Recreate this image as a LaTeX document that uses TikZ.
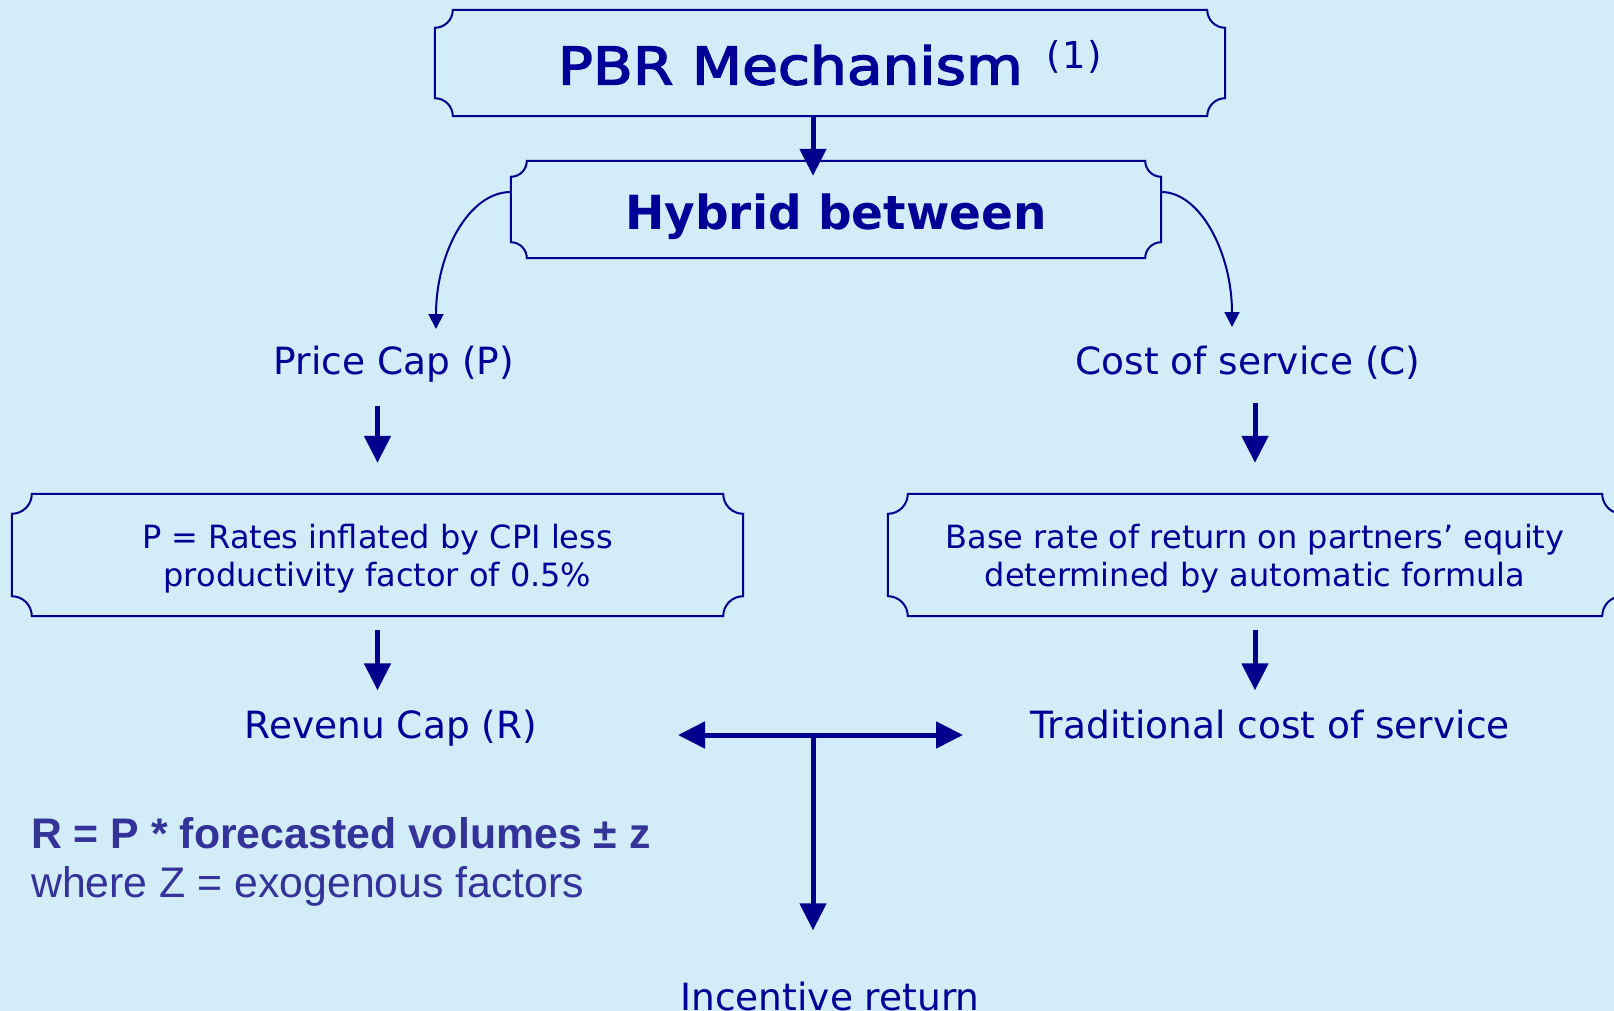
\documentclass[tikz,border=0pt]{standalone}
\usepackage{fontspec}
\setmainfont{DejaVu Sans}
\newfontfamily\arialfont{Liberation Sans}
\newfontfamily\pbrfont[FakeBold=2.6]{DejaVu Sans}
\usetikzlibrary{arrows.meta,calc}
\definecolor{bgblue}{RGB}{210,236,248}
\definecolor{navytext}{RGB}{0,0,150}
\definecolor{linenavy}{RGB}{0,0,140}
\definecolor{formulablue}{RGB}{51,51,153}

% concave-corner frame around a named node; #1 node, #2 corner radius
\newcommand\plaqueframe[2]{%
\draw[plaqueline] let \p1=(#1.north west), \p2=(#1.south east) in
 ({\x1+#2},\y1) -- ({\x2-#2},\y1)
 .. controls ({\x2-#2},{\y1-0.552*#2}) and ({\x2-0.552*#2},{\y1-#2}) .. (\x2,{\y1-#2})
 -- (\x2,{\y2+#2})
 .. controls ({\x2-0.552*#2},{\y2+#2}) and ({\x2-#2},{\y2+0.552*#2}) .. ({\x2-#2},\y2)
 -- ({\x1+#2},\y2)
 .. controls ({\x1+#2},{\y2+0.552*#2}) and ({\x1+0.552*#2},{\y2+#2}) .. (\x1,{\y2+#2})
 -- (\x1,{\y1-#2})
 .. controls ({\x1+0.552*#2},{\y1-#2}) and ({\x1+#2},{\y1-0.552*#2}) .. ({\x1+#2},\y1)
 -- cycle;}

\begin{document}
\begin{tikzpicture}[x=1pt,y=-1pt,
  plaqueline/.style={draw=linenavy, line width=2pt},
  plaque/.style={inner sep=0pt, text=navytext},
  txt/.style={inner sep=0pt, text=navytext, anchor=base, font=\fontsize{37.5}{45}\selectfont},
  boxtxt/.style={plaque, font=\fontsize{32}{38.4}\selectfont, text height=0pt, text depth=13.4pt},
  bigarrow/.style={draw=linenavy, line width=5pt, -{Triangle[length=27pt,width=26pt]}},
  twoarrow/.style={draw=linenavy, line width=5pt, {Triangle[length=27pt,width=26pt]}-{Triangle[length=27pt,width=26pt]}},
  thinarrow/.style={draw=linenavy, line width=2pt, -{Triangle[length=15pt,width=15pt]}}]

\useasboundingbox (0,0) rectangle (1614,1011);
\clip (0,0) rectangle (1614,1011);
\fill[bgblue] (0,0) rectangle (1614,1011);

% boxes
\node[plaque, minimum width=790pt, minimum height=106pt, text height=43pt, text depth=0pt] (pbr) at (830,63)
  {\scalebox{1.12}[1]{\pbrfont\fontsize{52}{60}\selectfont PBR Mechanism}\hspace{24pt}\raisebox{15.5pt}{\fontsize{37}{40}\selectfont(\kern1.5pt1\kern1.5pt)}};
\plaqueframe{pbr}{18pt}

\node[plaque, minimum width=650pt, minimum height=97pt, text height=40pt, text depth=0pt] (hyb) at (836,209.5)
  {\fontsize{47}{56}\selectfont\bfseries Hybrid between};
\plaqueframe{hyb}{16pt}

\node[boxtxt, minimum width=731pt, minimum height=122pt] (lbox) at (377.5,555)
  {\begin{tabular}[t]{@{}c@{}}P = Rates inflated by CPI less\\productivity factor of 0.5\%\end{tabular}};
\plaqueframe{lbox}{20pt}

\node[boxtxt, minimum width=734pt, minimum height=122pt] (rbox) at (1255,555)
  {\begin{tabular}[t]{@{}c@{}}Base rate of return on partners’ equity\\determined by automatic formula\end{tabular}};
\plaqueframe{rbox}{20pt}

% labels
\node[txt] (pc) at (394,374.7) {Price Cap (P)};
\node[txt] (cs) at (1248,374.7) {Cost of service (C)};
\node[txt] (rev) at (391,738) {Revenu Cap (R)};
\node[txt] (trad) at (1270,738) {Traditional cost of service};
\node[txt] (inc) at (830,1010) {Incentive return};

\node[anchor=base west, inner sep=0pt, text=formulablue, font=\arialfont\bfseries\fontsize{42.8}{50}\selectfont] (rf) at (31,848)
  {R = P * forecasted volumes ± z};
\node[anchor=base west, inner sep=0pt, text=formulablue, font=\arialfont\fontsize{42.8}{50}\selectfont] (rz) at (31,897)
  {where Z = exogenous factors};

% connectors
\draw[bigarrow] ([xshift=-17pt]pbr.south) -- ([xshift=-23pt,yshift=-15pt]hyb.north);

\coordinate (pctip) at (436,329);
\coordinate (cstip) at (1232,327);
\draw[thinarrow] ([yshift=17.5pt]hyb.west) .. controls +(-42,0) and +(0,-76) .. (pctip);
\draw[thinarrow] ([yshift=17.5pt]hyb.east) .. controls +(39,0) and +(0,-74) .. (cstip);

\draw[bigarrow] ($(pc.south -| lbox.north)+(0,23)$) -- ($(lbox.north)+(0,-31)$);
\draw[bigarrow] ($(cs.south -| rbox.north)+(0,23)$) -- ($(rbox.north)+(0,-31)$);
\draw[bigarrow] ($(lbox.south)+(0,14)$) -- ($(rev.north -| lbox.south)+(0,-19)$);
\draw[bigarrow] ($(rbox.south)+(0,14)$) -- ($(trad.north -| rbox.south)+(0,-19)$);

\coordinate (tj) at (813,735);
\coordinate (tl) at (678,735);
\coordinate (tr) at (963,735);
\draw[twoarrow] (tl) -- (tr);
\draw[bigarrow] (tj) -- ($(inc.north)+(-17,-51)$);
\end{tikzpicture}
\end{document}
